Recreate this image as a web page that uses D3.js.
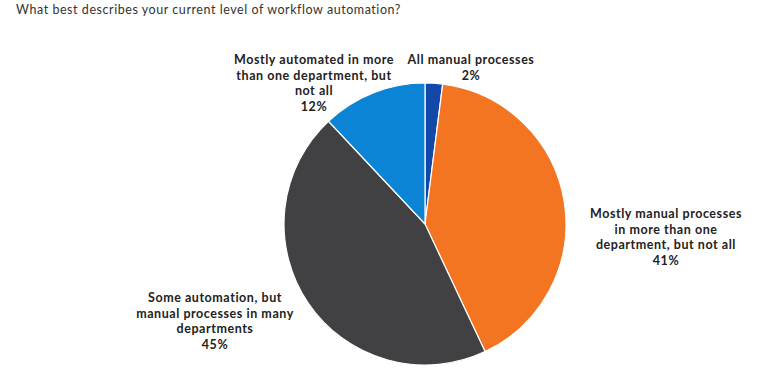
<!DOCTYPE html>
<html><head><meta charset="utf-8">
<script src="https://cdn.jsdelivr.net/npm/d3@7"></script>
<style>body{margin:0;background:#fff;}svg{display:block;}</style>
</head><body>
<svg id="c" width="768" height="377"></svg>
<script>
const title = "What best describes your current level of workflow automation?";
const categories = ["All manual processes", "Mostly manual processes in more than one department, but not all", "Some automation, but manual processes in many departments", "Mostly automated in more than one department, but not all"];
const values = [2, 41, 45, 12];
const colors = ["#1249a8", "#f37421", "#414042", "#0b84d6"];
const labelLines = [
  ["All manual processes", "2%"],
  ["Mostly manual processes", "in more than one", "department, but not all", "41%"],
  ["Some automation, but", "manual processes in many", "departments", "45%"],
  ["Mostly automated in more", "than one department, but", "not all", "12%"]
];
const labelPos = [[471, 60], [666, 214], [215, 298], [314, 60]];

const svg = d3.select("#c");
svg.append("text").attr("x", 16).attr("y", 14).attr("font-family", "Lato, sans-serif")
  .attr("font-size", 12.5).attr("letter-spacing", 0.55).attr("fill", "#333").text(title);

const cx = 425, cy = 224, r = 141;
const pie = d3.pie().sort(null).value(d => d)(values);
const arc = d3.arc().innerRadius(0).outerRadius(r);
const g = svg.append("g").attr("transform", `translate(${cx},${cy})`);
g.selectAll("path").data(pie).join("path")
  .attr("d", arc).attr("fill", (d, i) => colors[i])
  .attr("stroke", "#fff").attr("stroke-width", 1.2);

labelLines.forEach((lines, i) => {
  const t = svg.append("text").attr("text-anchor", "middle")
    .attr("font-family", "Lato, sans-serif").attr("font-weight", "bold")
    .attr("font-size", 12.5).attr("letter-spacing", 0.55).attr("fill", "#222");
  lines.forEach((l, j) => {
    t.append("tspan").attr("x", labelPos[i][0]).attr("y", labelPos[i][1] + j * 15.5 + 4).text(l);
  });
});
</script>
</body></html>
